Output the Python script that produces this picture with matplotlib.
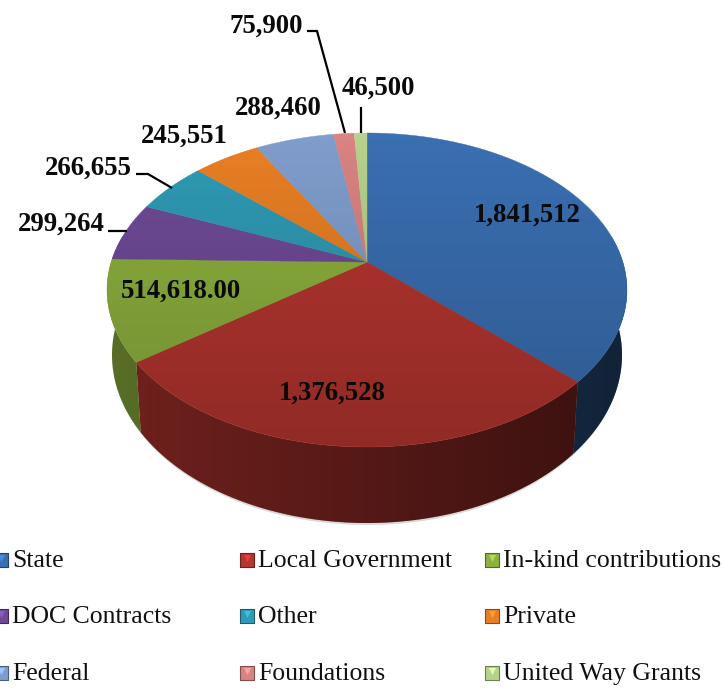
import numpy as np
import matplotlib
matplotlib.use("Agg")
import matplotlib.pyplot as plt
from matplotlib.colors import to_rgb

plt.rcParams['font.family'] = ['Liberation Serif', 'DejaVu Serif']

# Chart data
categories = ["State", "Local Government", "In-kind contributions",
              "DOC Contracts", "Other", "Private",
              "Federal", "Foundations", "United Way Grants"]
values = [1841512, 1376528, 514618, 299264, 266655, 245551, 288460, 75900, 46500]
value_labels = ["1,841,512", "1,376,528", "514,618.00", "299,264", "266,655",
                "245,551", "288,460", "75,900", "46,500"]
colors = ["#3A6FB2", "#B5352F", "#8DB03E", "#6F4A98", "#2F9AB5",
          "#E87F24", "#7F9DCC", "#D98383", "#B6D28C"]

# Layout, in pixels of the 723x689 picture
CX, CY, RX, RY = 367, 290, 260, 157     # top ellipse
BY, BRX, BRY = 355, 255, 168            # bottom ellipse
SKEW = -0.178                           # how far the apex sits above the ellipse centre
APEX_Y = CY + SKEW * RY

label_pos = [(527, 215), (332, 393), (181, 291), (61, 224), (88, 168),
             (184, 136), (278, 108), (266, 26), (378, 88)]
leaders = [None, None, None,
           [(108, 231), (127, 231)],
           [(136, 174), (148, 174), (172, 188)],
           None, None,
           [(307, 31), (317, 31), (345, 133)],
           [(361, 107), (361, 133)]]
legend_x = [1, 247, 492]
legend_text_x = [12, 258, 503]
legend_y = [561, 617, 674]


def rim(theta, cy=CY, rx=RX, ry=RY):
    # theta in degrees clockwise from 12 o'clock, with perspective on the circle
    t = np.radians(theta)
    x, y = np.sin(t), -np.cos(t)
    d = 1 + SKEW * y
    return CX + rx * x * np.sqrt(1 - SKEW ** 2) / d, cy + ry * (y + SKEW) / d


fig = plt.figure(figsize=(7.23, 6.89), dpi=100)
ax = fig.add_axes([0, 0, 1, 1])

edges = np.concatenate([[0], np.cumsum(values)]) / np.sum(values) * 360

# soft shadow below the pie
ts = np.linspace(0, 360, 361)
sx, sy = rim(ts, BY + 2, BRX - 1, BRY)
ax.fill(sx, sy, color="#AAAAAA", alpha=0.45, lw=0, zorder=1)

# side walls, only the part of each slice that faces the viewer
for i, col in enumerate(colors):
    # the limits sit where the perspective puts the ellipse's left and right ends
    a, b = max(edges[i], 80), min(edges[i + 1], 280)
    if a >= b:
        continue
    ts = np.linspace(a, b, 120)
    x1, y1 = rim(ts)
    x2, y2 = rim(ts, BY, BRX, BRY)
    base = np.array(to_rgb(col)) * 0.66
    patch = ax.fill(np.r_[x1, x2[::-1]], np.r_[y1, y2[::-1]], color=base, lw=0, zorder=2)[0]
    # wall gets darker towards the right
    g = np.linspace(0, 1, 256).reshape(1, -1)
    rgba = np.zeros((1, 256, 4))
    rgba[..., 3] = 0.05 + 0.48 * g
    im = ax.imshow(rgba, extent=(CX - RX, CX + RX, 530, 280), aspect="auto", zorder=2.1)
    im.set_clip_path(patch)

# top surface
for i, col in enumerate(colors):
    ts = np.linspace(edges[i], edges[i + 1], 200)
    x, y = rim(ts)
    ax.fill(np.r_[CX, x], np.r_[APEX_Y, y], color=col, ec=col, lw=0.3, zorder=3)

# top surface darkens towards the viewer
ts = np.linspace(0, 360, 721)
x, y = rim(ts)
disc = ax.fill(x, y, color="none", lw=0, zorder=3.2)[0]
rgba = np.zeros((256, 1, 4))
rgba[:, 0, 3] = np.linspace(0, 0.2, 256)
im = ax.imshow(rgba, extent=(CX - RX, CX + RX, CY + RY, CY - RY), aspect="auto", zorder=3.3)
im.set_clip_path(disc)

# values and leader lines
for text, (lx, ly), lead in zip(value_labels, label_pos, leaders):
    ax.text(lx, ly, text, ha="center", va="center", fontsize=19.3,
            fontweight="bold", color="#0A0A0A", zorder=6)
    if lead:
        ax.plot(*zip(*lead), color="black", lw=1.6, solid_capstyle="butt", zorder=5)

# legend
for i, (name, col) in enumerate(zip(categories, colors)):
    row, c = i // 3, i % 3
    ax.scatter(legend_x[c], legend_y[row] - 1, marker="s", s=100, color=col,
               edgecolors=np.array(to_rgb(col)) * 0.6, linewidths=0.8, zorder=5)
    ax.scatter(legend_x[c], legend_y[row] - 3, marker="v", s=26,
               color=np.minimum(np.array(to_rgb(col)) * 1.25, 1), lw=0, zorder=5.1)
    ax.text(legend_text_x[c], legend_y[row], name, ha="left", va="center",
            fontsize=18.5, color="#111111", zorder=6)

ax.set_xlim(0, 723)
ax.set_ylim(689, 0)
ax.axis("off")

fig.savefig("out.png", dpi=100)
